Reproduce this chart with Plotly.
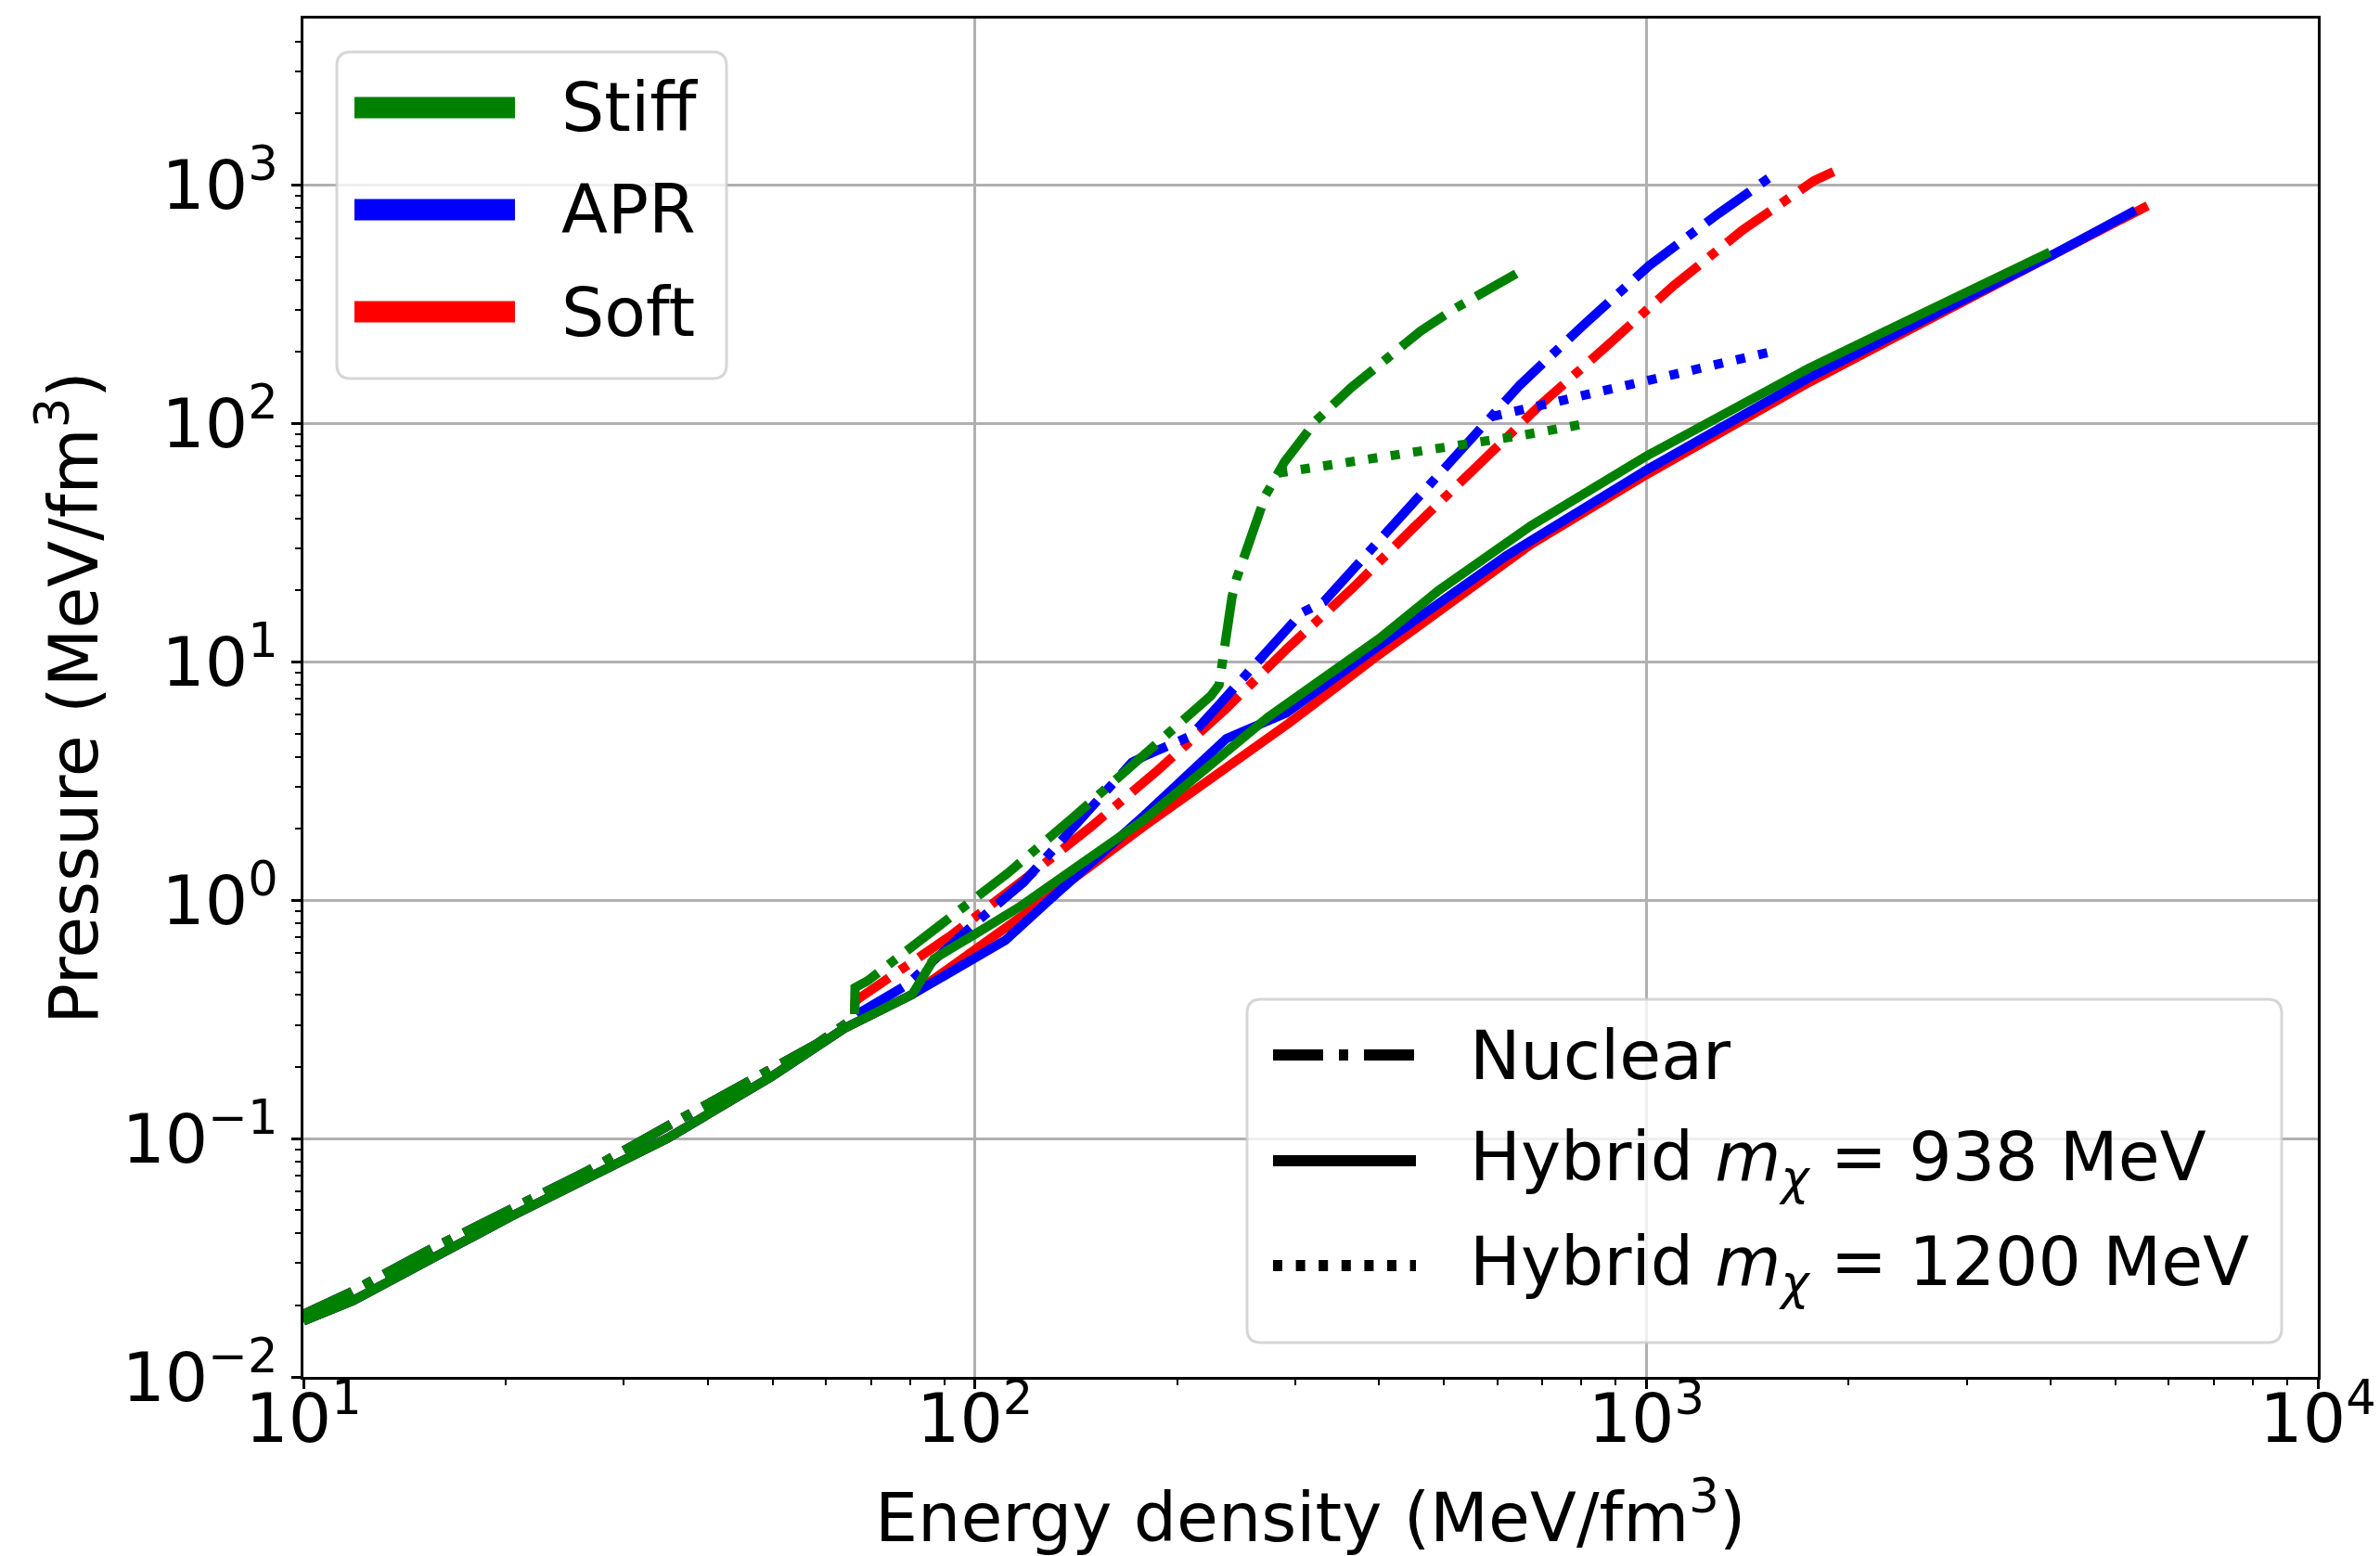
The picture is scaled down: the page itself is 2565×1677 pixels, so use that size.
import plotly.graph_objects as go

# ---------------- data ----------------
# Stiff (green)
stiff_nuc_E = [10, 11.7, 15.3, 20.0, 26.3, 33.9, 44.4, 58.2, 66.2, 66.3, 69.2, 88.2, 112, 140.7, 177.5,
               224.5, 231, 233, 237.5, 241.5, 245.5, 259.5, 271, 289, 322, 363, 405, 460, 518, 594, 640]
stiff_nuc_P = [0.0183, 0.0225, 0.0338, 0.049, 0.0723, 0.108, 0.164, 0.25, 0.322, 0.43, 0.459, 0.767, 1.30, 2.25, 3.97,
               7.2, 8.0, 9.5, 15.5, 18.7, 22.5, 36, 50, 68.9, 102.6, 141, 180, 243, 303, 377, 425]
stiff_h938_E = [10, 11.86, 20.3, 34.9, 49.8, 63.9, 80.7, 86.9, 100, 117, 178.8, 273, 400, 490, 673, 1000, 1748, 2700, 3990]
stiff_h938_P = [0.0172, 0.0209, 0.0469, 0.1005, 0.182, 0.29, 0.403, 0.568, 0.72, 0.944, 2.18, 5.85, 12.5, 19.9, 37.2, 73, 171, 312, 524]
stiff_h1200_E = [283, 356, 500, 650, 815]
stiff_h1200_P = [62, 68.5, 79, 89, 100]

# APR (blue)
apr_nuc_E = [10, 11.7, 15.3, 20.0, 26.3, 33.9, 44.4, 58.2, 66.2, 66.7, 75, 79, 100.8, 118.2, 128.7, 144.7, 157.4,
             171.4, 178.8, 201, 209.7, 230.7, 282, 307, 331, 352, 382, 427, 470, 528, 577, 648, 811, 1010, 1280, 1565]
apr_nuc_P = [0.0183, 0.0225, 0.0338, 0.049, 0.0723, 0.108, 0.164, 0.25, 0.322, 0.332, 0.403, 0.44, 0.815, 1.19, 1.55, 2.24, 2.9,
             3.79, 4.02, 4.67, 4.89, 6.58, 12.1, 16.1, 17.9, 21.7, 28.1, 39.5, 53.3, 76, 100, 145, 263, 460, 759, 1132]
apr_h938_E = [10, 11.86, 20.3, 34.9, 49.8, 63.9, 80.7, 111, 130, 178.8, 237, 291, 405, 574, 618, 1000, 1748, 3990, 5350]
apr_h938_P = [0.0172, 0.0209, 0.0469, 0.1005, 0.182, 0.29, 0.403, 0.679, 1.02, 2.27, 4.77, 6.11, 12.0, 24.5, 27.8, 63.8, 156, 503, 784]
apr_h1200_E = [590, 800, 1000, 1250, 1523]
apr_h1200_P = [107, 130, 150, 174, 199]

# Soft (red)
soft_nuc_E = [10, 11.7, 15.3, 20.0, 26.3, 33.9, 44.4, 58.2, 66.2, 66.3, 67, 92.1, 117, 148.5, 187.5, 235.6, 293,
              366, 452, 562, 698, 866, 1096, 1390, 1778, 1900]
soft_nuc_P = [0.0183, 0.0225, 0.0338, 0.049, 0.0723, 0.108, 0.164, 0.25, 0.322, 0.375, 0.385, 0.711, 1.19, 2.02, 3.52, 6.29, 11.5,
              20.5, 37, 66.7, 121, 207, 377, 647, 1045, 1140]
soft_h938_E = [10, 11.86, 20.3, 34.9, 49.8, 63.9, 80.7, 130, 178.8, 294, 396, 673, 1000, 1748, 3990, 5580]
soft_h938_P = [0.0172, 0.0209, 0.0469, 0.1005, 0.182, 0.29, 0.403, 1.05, 2.05, 5.55, 10.5, 31.1, 61, 149, 503, 820]

eos_names = ["Stiff", "APR", "Soft"]
style_names = ["Nuclear", "Hybrid <i>m</i><sub><i>χ</i></sub> = 938 MeV", "Hybrid <i>m</i><sub><i>χ</i></sub> = 1200 MeV"]

x_tickvals = [10, 100, 1000, 10000]
x_ticktext = ["10<sup>1</sup>", "10<sup>2</sup>", "10<sup>3</sup>", "10<sup>4</sup>"]
y_tickvals = [0.01, 0.1, 1, 10, 100, 1000]
y_ticktext = ["10<sup>−2</sup>", "10<sup>−1</sup>", "10<sup>0</sup>", "10<sup>1</sup>", "10<sup>2</sup>", "10<sup>3</sup>"]

# ---------------- styling ----------------
GREEN, BLUE, RED = "#008000", "#0000ff", "#ff0000"
FONT = "DejaVu Sans"
FS = 73
LW = 10
DASHDOT = "58px,14.5px,10px,14.5px"
DOT = "10px,14.5px"

W, H = 2565, 1677
L, R, T, B = 327, 2498, 20, 1484


def px(xp):
    return (xp - L) / (R - L)


def py(yp):
    return (B - yp) / (B - T)


fig = go.Figure()

series = [
    (soft_nuc_E, soft_nuc_P, RED, DASHDOT),
    (soft_h938_E, soft_h938_P, RED, "solid"),
    (apr_nuc_E, apr_nuc_P, BLUE, DASHDOT),
    (apr_h938_E, apr_h938_P, BLUE, "solid"),
    (apr_h1200_E, apr_h1200_P, BLUE, DOT),
    (stiff_nuc_E, stiff_nuc_P, GREEN, DASHDOT),
    (stiff_h938_E, stiff_h938_P, GREEN, "solid"),
    (stiff_h1200_E, stiff_h1200_P, GREEN, DOT),
]
for E, P, c, d in series:
    fig.add_trace(go.Scatter(x=E, y=P, mode="lines", showlegend=False, hoverinfo="skip",
                             line=dict(color=c, width=LW, dash=d)))

minor_x = [d * 10 ** k for k in range(1, 4) for d in range(2, 10)]
minor_y = [d * 10.0 ** k for k in range(-2, 4) for d in range(2, 10) if d * 10.0 ** k < 5000]

axis_common = dict(
    type="log", showgrid=True, gridcolor="#b0b0b0", gridwidth=2.5, zeroline=False, automargin=False,
    ticks="outside", ticklen=10, tickwidth=2.5, tickcolor="black",
    showline=True, linecolor="black", linewidth=2.5, mirror=True,
    tickfont=dict(family=FONT, size=FS, color="black"),
)
fig.update_xaxes(**axis_common, range=[1, 4], tickmode="array", tickvals=x_tickvals, ticktext=x_ticktext,
                 ticklabelstandoff=-30,
                 minor=dict(tickmode="array", tickvals=minor_x, ticks="outside", ticklen=6, tickwidth=2.2,
                            tickcolor="black", showgrid=False))
fig.update_yaxes(**axis_common, range=[-2, 3.69897], tickmode="array", tickvals=y_tickvals, ticktext=y_ticktext,
                 minor=dict(tickmode="array", tickvals=minor_y, ticks="outside", ticklen=6, tickwidth=2.2,
                            tickcolor="black", showgrid=False))

shapes = []
annotations = []


def rounded_box(x0, y0, x1, y1, r=15):
    rx = r / (R - L)
    ry = r / (B - T)
    X0, X1 = px(x0), px(x1)
    Y0, Y1 = py(y0), py(y1)
    path = (f"M{X0+rx},{Y0} L{X1-rx},{Y0} Q{X1},{Y0} {X1},{Y0-ry} "
            f"L{X1},{Y1+ry} Q{X1},{Y1} {X1-rx},{Y1} "
            f"L{X0+rx},{Y1} Q{X0},{Y1} {X0},{Y1+ry} "
            f"L{X0},{Y0-ry} Q{X0},{Y0} {X0+rx},{Y0} Z")
    return dict(type="path", xref="paper", yref="paper", path=path, layer="above",
                fillcolor="rgba(255,255,255,0.8)", line=dict(color="rgba(204,204,204,0.8)", width=3))


# legend 1: colours
shapes.append(rounded_box(363, 56, 783, 408))
for name, c, yy in zip(eos_names, [GREEN, BLUE, RED], [116, 226, 336]):
    shapes.append(dict(type="line", xref="paper", yref="paper", layer="above",
                       x0=px(382), x1=px(555), y0=py(yy), y1=py(yy), line=dict(color=c, width=23)))
    annotations.append(dict(xref="paper", yref="paper", x=px(603), y=py(yy), xanchor="left", yanchor="middle",
                            text=name, showarrow=False, font=dict(family=FONT, size=FS, color="black")))

# legend 2: line styles
shapes.append(rounded_box(1344, 1077, 2459, 1447))
for name, d, yy in zip(style_names, ["54px,17px,10px,17px", "solid", "10px,14.6px"], [1137, 1251, 1364]):
    shapes.append(dict(type="line", xref="paper", yref="paper", layer="above",
                       x0=px(1372), x1=px(1526), y0=py(yy), y1=py(yy), line=dict(color="black", width=12, dash=d)))
    annotations.append(dict(xref="paper", yref="paper", x=px(1582), y=py(yy), xanchor="left", yanchor="middle",
                            text=name, showarrow=False, font=dict(family=FONT, size=FS, color="black")))

# axis titles
annotations.append(dict(xref="paper", yref="paper", x=px(1412), y=py(1630), xanchor="center", yanchor="middle",
                        text="Energy density (MeV/fm<sup>3</sup>)", showarrow=False,
                        font=dict(family=FONT, size=FS, color="black")))
annotations.append(dict(xref="paper", yref="paper", x=px(74), y=py(752), xanchor="center", yanchor="middle",
                        text="Pressure (MeV/fm<sup>3</sup>)", textangle=-90, showarrow=False,
                        font=dict(family=FONT, size=FS, color="black")))

fig.update_layout(width=W, height=H, margin=dict(l=L, r=W - R, t=T, b=H - B, pad=0),
                  plot_bgcolor="white", paper_bgcolor="white", showlegend=False,
                  shapes=shapes, annotations=annotations)

fig.write_html("out.html")
